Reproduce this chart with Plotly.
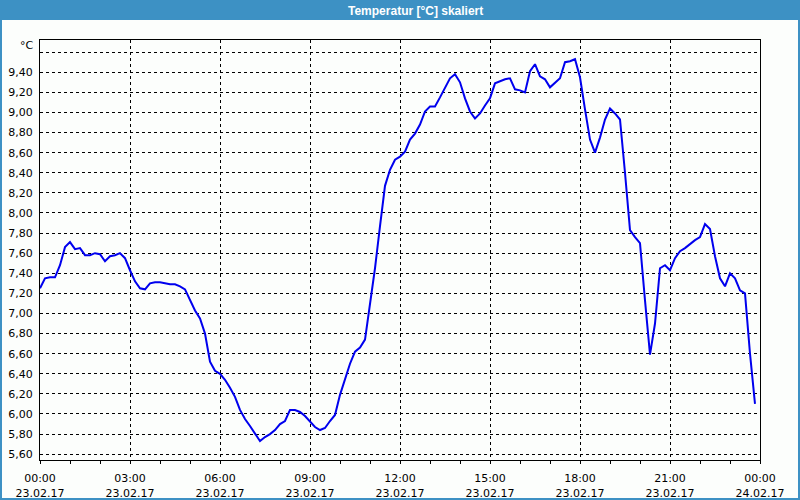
import plotly.graph_objects as go
import pandas as pd

# ---- data (10-minute samples, 23.02.17 00:00 .. 23:50) ----
start_time = "2017-02-23 00:00"
sample_freq = "10min"
temperature = [
    7.25, 7.35, 7.36, 7.36, 7.48, 7.66, 7.71, 7.64, 7.65, 7.58,
    7.58, 7.60, 7.59, 7.52, 7.57, 7.58, 7.60, 7.55, 7.43, 7.32,
    7.25, 7.24, 7.30, 7.31, 7.31, 7.30, 7.29, 7.29, 7.27, 7.24,
    7.13, 7.03, 6.95, 6.80, 6.52, 6.43, 6.40, 6.34, 6.26, 6.17,
    6.04, 5.95, 5.88, 5.81, 5.73, 5.77, 5.80, 5.84, 5.90, 5.93,
    6.04, 6.04, 6.02, 5.98, 5.92, 5.87, 5.84, 5.86, 5.93, 5.99,
    6.19, 6.34, 6.50, 6.62, 6.66, 6.74, 7.07, 7.45, 7.87, 8.27,
    8.43, 8.53, 8.56, 8.61, 8.73, 8.79, 8.88, 9.01, 9.06, 9.06,
    9.15, 9.25, 9.34, 9.38, 9.30, 9.14, 9.01, 8.94, 8.99, 9.07,
    9.14, 9.29, 9.31, 9.33, 9.34, 9.23, 9.22, 9.20, 9.41, 9.48,
    9.36, 9.33, 9.25, 9.30, 9.34, 9.50, 9.51, 9.53, 9.35, 9.03,
    8.73, 8.60, 8.75, 8.93, 9.04, 8.99, 8.93, 8.40, 7.83, 7.76,
    7.70, 7.13, 6.59, 6.90, 7.45, 7.48, 7.43, 7.55, 7.62, 7.65,
    7.69, 7.73, 7.76, 7.89, 7.84, 7.57, 7.35, 7.27, 7.40, 7.35,
    7.23, 7.20, 6.60, 6.10,
]
times = pd.date_range(start_time, periods=len(temperature), freq=sample_freq)

x_tickvals = ["2017-02-23 00:00", "2017-02-23 03:00", "2017-02-23 06:00",
              "2017-02-23 09:00", "2017-02-23 12:00", "2017-02-23 15:00",
              "2017-02-23 18:00", "2017-02-23 21:00", "2017-02-24 00:00"]
x_ticktext = ["00:00<br>23.02.17", "03:00<br>23.02.17", "06:00<br>23.02.17",
              "09:00<br>23.02.17", "12:00<br>23.02.17", "15:00<br>23.02.17",
              "18:00<br>23.02.17", "21:00<br>23.02.17", "00:00<br>24.02.17"]
y_tickvals = [5.6, 5.8, 6.0, 6.2, 6.4, 6.6, 6.8, 7.0, 7.2, 7.4, 7.6, 7.8,
              8.0, 8.2, 8.4, 8.6, 8.8, 9.0, 9.2, 9.4, 9.6]
y_ticktext = ["5,60", "5,80", "6,00", "6,20", "6,40", "6,60", "6,80", "7,00",
              "7,20", "7,40", "7,60", "7,80", "8,00", "8,20", "8,40", "8,60",
              "8,80", "9,00", "9,20", "9,40", ""]
title_text = "Temperatur [°C] skaliert"
unit_text = "°C"

# ---- figure ----
W, H = 800, 500
L, R, T, B = 40, 40, 40, 40
pw, ph = W - L - R, H - T - B
BLUE = "#3d91c4"
BG = "#fcfefc"
FONT = "DejaVu Sans"


def px_x(p):
    return (p - L) / pw


def px_y(p):
    return 1 - (p - T) / ph


fig = go.Figure()
fig.add_trace(go.Scatter(x=times, y=temperature, mode="lines",
                         line=dict(color="#0000ee", width=2),
                         hoverinfo="skip", showlegend=False))

grid = dict(showgrid=True, gridcolor="black", gridwidth=1, griddash="3px,3px")

fig.update_layout(
    width=W, height=H,
    margin=dict(l=L, r=R, t=T, b=B, pad=0, autoexpand=False),
    paper_bgcolor=BG, plot_bgcolor=BG,
    font=dict(family=FONT, size=11, color="black"),
    showlegend=False,
    xaxis=dict(
        type="date", automargin=False,
        range=["2017-02-23 00:00", "2017-02-24 00:00"],
        tickmode="array", tickvals=x_tickvals, ticktext=x_ticktext,
        ticks="outside", ticklen=3, tickcolor="black", tickwidth=1,
        minor=dict(dtick=3600000, ticks="outside", ticklen=3,
                   tickcolor="black", showgrid=False),
        showline=True, linecolor="black", linewidth=1, mirror=True,
        zeroline=False, tickangle=0, ticklabelstandoff=5,
        tickfont=dict(family=FONT, size=11),
        **grid,
    ),
    yaxis=dict(
        automargin=False,
        range=[5.542, 9.721],
        tickmode="array", tickvals=y_tickvals, ticktext=y_ticktext,
        ticks="", showline=True, linecolor="black", linewidth=1, mirror=True,
        zeroline=False, ticklabelstandoff=4,
        tickfont=dict(family=FONT, size=11),
        **grid,
    ),
)

# window chrome: title bar and blue frame
shapes = [
    dict(type="rect", xref="paper", yref="paper",
         x0=px_x(0), x1=px_x(W), y0=px_y(20), y1=px_y(0),
         fillcolor=BLUE, line=dict(width=0), layer="above"),
    dict(type="rect", xref="paper", yref="paper",
         x0=px_x(0), x1=px_x(2), y0=px_y(H), y1=px_y(20),
         fillcolor=BLUE, line=dict(width=0), layer="above"),
    dict(type="rect", xref="paper", yref="paper",
         x0=px_x(W - 2), x1=px_x(W), y0=px_y(H), y1=px_y(20),
         fillcolor=BLUE, line=dict(width=0), layer="above"),
    dict(type="rect", xref="paper", yref="paper",
         x0=px_x(0), x1=px_x(W), y0=px_y(H), y1=px_y(H - 2),
         fillcolor=BLUE, line=dict(width=0), layer="above"),
]
fig.update_layout(shapes=shapes)

fig.add_annotation(text=f"<b>{title_text}</b>", xref="paper", yref="paper",
                   x=px_x(415), y=px_y(11), xanchor="center", yanchor="middle",
                   showarrow=False,
                   font=dict(family="Liberation Sans", size=12, color="white"))
fig.add_annotation(text=unit_text, xref="paper", yref="paper",
                   x=px_x(36), y=px_y(46), xanchor="right", yanchor="middle",
                   showarrow=False, font=dict(family=FONT, size=11))

fig.write_html("out.html")
